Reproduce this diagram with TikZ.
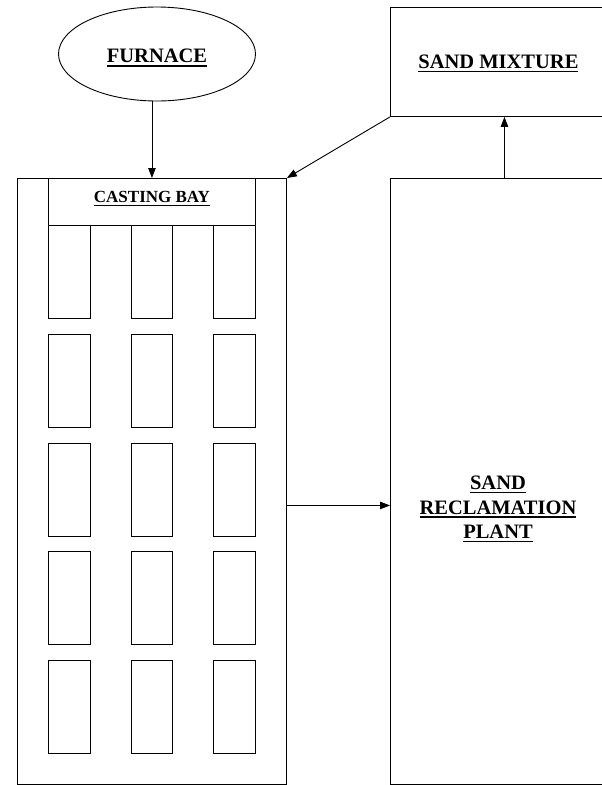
\documentclass[tikz,border=0pt]{standalone}
\usepackage{fontspec}
\setmainfont{Liberation Serif}
\usetikzlibrary{arrows.meta,positioning,calc,shapes.geometric}
\newcommand{\thickul}[1]{\vtop{\hbox{#1}\kern2pt\hrule height 1.5pt}}

\begin{document}
\begin{tikzpicture}[x=1pt,y=-1pt, >={Triangle[length=10pt,width=7.5pt]}, line width=0.9pt]
  \tikzstyle{block}=[rectangle, draw, inner sep=0pt, anchor=north west]
  \tikzstyle{heading}=[font=\bfseries\fontsize{20.5}{24.5}\selectfont, align=center]
  \tikzstyle{subheading}=[font=\bfseries\fontsize{17}{20}\selectfont, align=center]
  \useasboundingbox (0,0) rectangle (602,785);
  \node[ellipse, draw, minimum width=197pt, minimum height=94pt, inner sep=0pt, heading] (furnace) at (157,54) {\raisebox{-4pt}[\height][\depth]{\thickul{FURNACE}}};
  \node[block, minimum width=216pt, minimum height=109pt, heading] (mixture) at (390,7) {\raisebox{-1.5pt}[\height][\depth]{\thickul{SAND MIXTURE}}};
  \node[block, minimum width=216pt, minimum height=606pt] (plant) at (390,178) {};
  \node[heading] (plantlabel) at (498,509) {\thickul{SAND}\\\thickul{RECLAMATION}\\\thickul{PLANT}};
  \node[block, minimum width=269.3pt, minimum height=606pt] (bay) at (16.7,178) {};
  \node[block, minimum width=207pt, minimum height=47pt, subheading] (header) at (48,178) {\raisebox{3pt}[\height][\depth]{\thickul{CASTING BAY}}};
  % moulds in the casting bay
  \foreach \c in {0,1,2}
    \foreach \r in {0,...,4}
      \node[block, minimum width=41.7pt, minimum height=93pt] (mold-\c-\r) at ({48+82.7*\c},{225+108.75*\r}) {};
  \draw[->] (furnace.south -| header.north) -- (header.north);
  \draw[->] (mixture.south west) -- (bay.north east);
  \draw[->] ([xshift=6pt]plant.north) -- ([xshift=6pt]plant.north |- mixture.south);
  \draw[->] ([yshift=-24pt]bay.east) -- ([yshift=-24pt]bay.east -| plant.west);
\end{tikzpicture}
\end{document}
